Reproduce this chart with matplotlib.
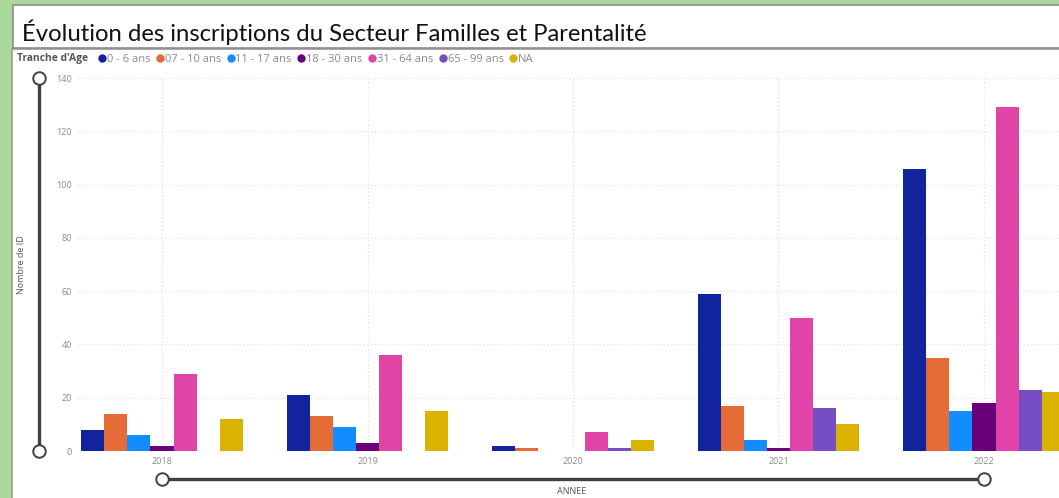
import numpy as np
import matplotlib.pyplot as plt
from matplotlib.lines import Line2D
from matplotlib.patches import Rectangle

# data
years = ['2018', '2019', '2020', '2021', '2022']
tranches = ['0 - 6 ans', '07 - 10 ans', '11 - 17 ans', '18 - 30 ans',
            '31 - 64 ans', '65 - 99 ans', 'NA']
age_0_6 = [8, 21, 2, 59, 106]
age_07_10 = [14, 13, 1, 17, 35]
age_11_17 = [6, 9, 0, 4, 15]
age_18_30 = [2, 3, 0, 1, 18]
age_31_64 = [29, 36, 7, 50, 129]
age_65_99 = [0, 0, 1, 16, 23]
age_na = [12, 15, 4, 10, 22]
y_ticks = [0, 20, 40, 60, 80, 100, 120, 140]

series = [age_0_6, age_07_10, age_11_17, age_18_30, age_31_64, age_65_99, age_na]
colors = ['#12239E', '#E66C37', '#118DFF', '#6B007B', '#E044A7', '#744EC2', '#D9B300']

plt.rcParams['font.family'] = ['Open Sans', 'DejaVu Sans']

W, H = 1059, 498
fig = plt.figure(figsize=(W / 100, H / 100), dpi=100)
fig.patch.set_facecolor('#A8D99B')

def px_rect(x0, y0, x1, y1, **kw):
    # rectangle given in pixels from the top-left corner
    r = Rectangle((x0 / W, 1 - y1 / H), (x1 - x0) / W, (y1 - y0) / H,
                  transform=fig.transFigure, zorder=-5, **kw)
    fig.add_artist(r)

# visual panel and title box
px_rect(12, 49, 1080, 520, facecolor='white', edgecolor='#9a9a9a', lw=1.2)
px_rect(13, 5, 1080, 48, facecolor='white', edgecolor='#8c8c8c', lw=1.2)
fig.text(22 / W, 1 - 32 / H, 'Évolution des inscriptions du Secteur Familles et Parentalité',
         fontsize=17.2, family=['Lato', 'DejaVu Sans'], color='#111111', va='center', ha='left')

# axes: category 0 centred at x=162px, spacing 205.5px
spacing = 205.5
x_left = -0.41
x_right = 4.5
ax_l = 162 + x_left * spacing
ax_w = (x_right - x_left) * spacing
ax = fig.add_axes([ax_l / W, 47 / H, ax_w / W, 373 / H])
ax.set_xlim(x_left, x_right)
ax.set_ylim(0, 140)

x = np.arange(len(years))
w = 0.112
for i, (vals, c) in enumerate(zip(series, colors)):
    ax.bar(x + (i - 3) * w, vals, width=w, color=c, linewidth=0, zorder=3)

ax.set_yticks(y_ticks)
ax.set_xticks(x)
ax.set_xticklabels(years)
ax.tick_params(axis='both', length=0, labelsize=6.5, labelcolor='#8a8a8a')
ax.tick_params(axis='y', pad=4)
ax.tick_params(axis='x', pad=4)
ax.grid(True, axis='both', color='#e2e2e2', linestyle=(0, (1, 2)), linewidth=0.9, zorder=0)
for s in ax.spines.values():
    s.set_visible(False)
ax.set_facecolor('none')

# vertical range slider
yt = ax.get_yaxis_transform()
sx = (39 - ax_l) / ax_w
ax.add_line(Line2D([sx, sx], [0, 140], transform=yt, color='#404040', lw=2.4, clip_on=False))
ax.add_line(Line2D([sx, sx], [0, 140], transform=yt, color='#404040', lw=0, marker='o',
                   markersize=9, markerfacecolor='white', markeredgewidth=1.4, clip_on=False))

# horizontal range slider
xt = ax.get_xaxis_transform()
sy = (H - 479 - 47) / 373
ax.add_line(Line2D([0, 4], [sy, sy], transform=xt, color='#404040', lw=2.4, clip_on=False))
ax.add_line(Line2D([0, 4], [sy, sy], transform=xt, color='#404040', lw=0, marker='o',
                   markersize=9, markerfacecolor='white', markeredgewidth=1.4, clip_on=False))

fig.text(572 / W, 1 - 491 / H, 'ANNEE', fontsize=6.5, color='#555555', ha='center', va='center')
fig.text(22 / W, 1 - 265 / H, 'Nombre de ID', fontsize=6.5, color='#555555', rotation=90,
         ha='center', va='center')

# legend
fig.text(17 / W, 1 - 59 / H, "Tranche d'Age", fontsize=7.4, fontweight='bold', color='#555555',
         ha='left', va='center')
handles = [Line2D([], [], lw=0, marker='o', markersize=6, markerfacecolor=c, markeredgewidth=0)
           for c in colors]
leg = fig.legend(handles, tranches, loc='center left', bbox_to_anchor=(99 / W, 1 - 59 / H),
                 ncol=len(tranches), frameon=False, fontsize=8, handlelength=0.55,
                 handletextpad=0.15, columnspacing=0.6, borderpad=0, borderaxespad=0)
for t in leg.get_texts():
    t.set_color('#8a8a8a')

fig.savefig('out.png', dpi=100)
